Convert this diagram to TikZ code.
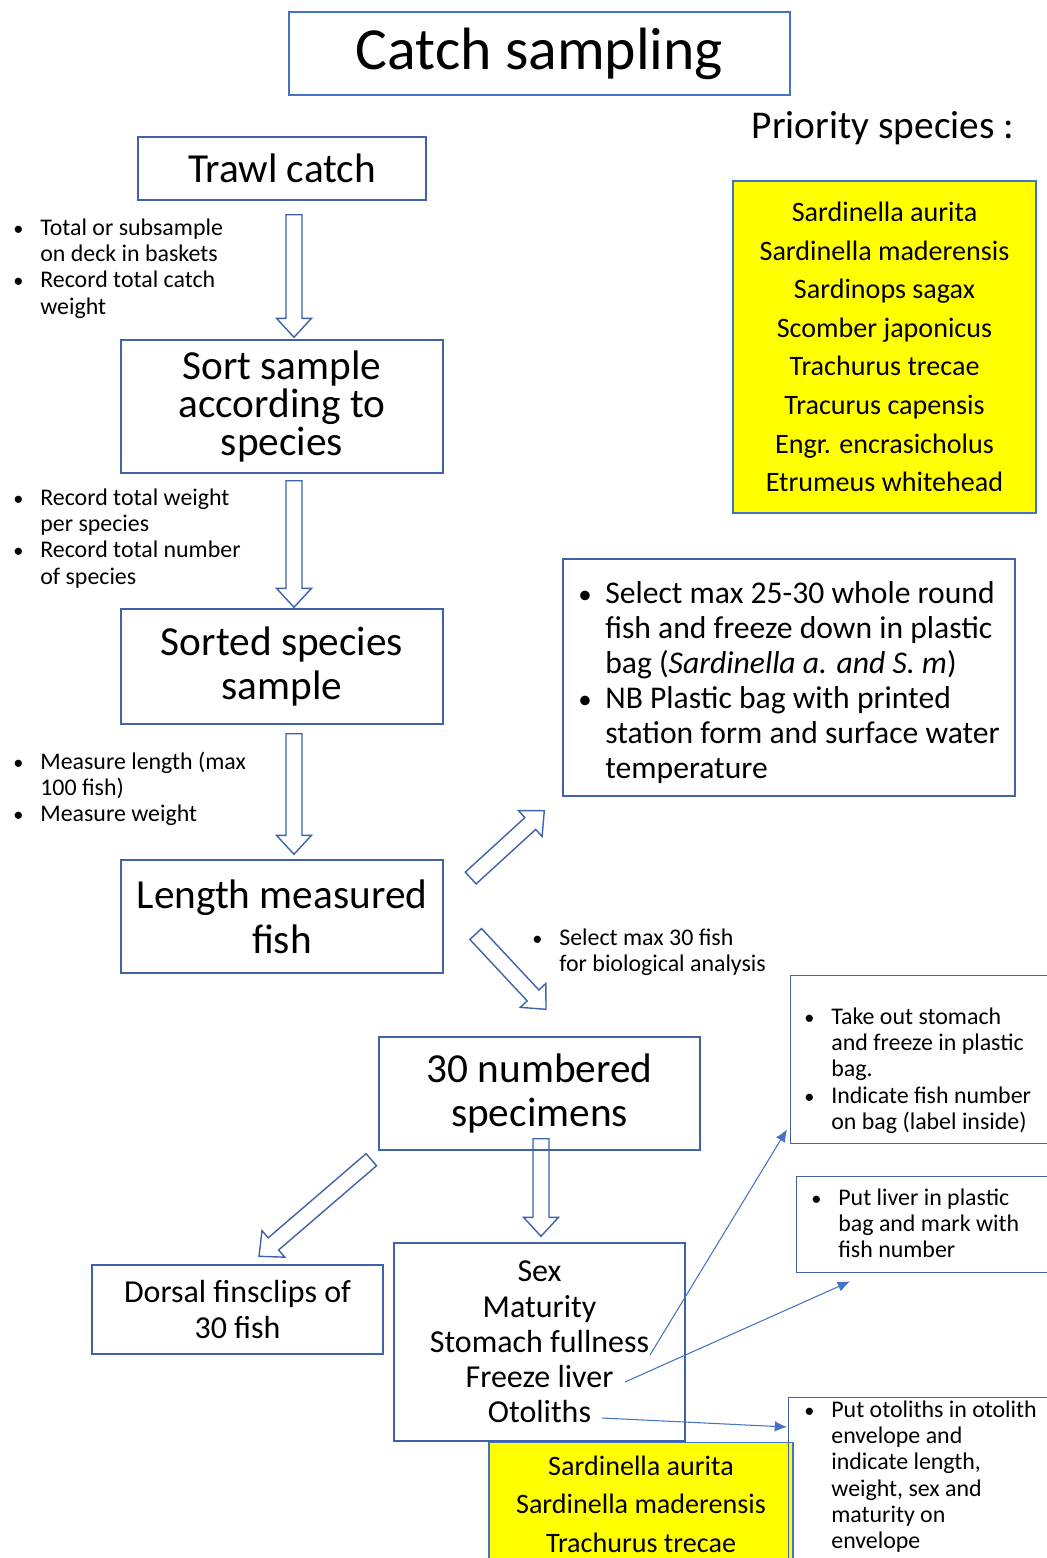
\documentclass[tikz,border=0pt]{standalone}
\usepackage{fontspec}
\setmainfont{Carlito}
\usetikzlibrary{calc,arrows.meta,positioning}

\definecolor{boxblue}{RGB}{63,98,168}
\definecolor{lineblue}{RGB}{68,114,196}
\definecolor{prioyellow}{RGB}{255,255,0}

\newcommand{\pxu}{0.02cm}
\newcommand{\bul}{\makebox[0.54cm][l]{\scalebox{0.85}{\textbullet}}}
% hollow block arrow from #1 to the tip #2
\newcommand{\hollowarrow}[2]{%
  \coordinate (ha-s) at (#1);
  \coordinate (ha-t) at (#2);
  \coordinate (ha-n) at ($(ha-t)!0.38cm!(ha-s)$);
  \draw[hollow] ($(ha-s)!0.16cm!90:(ha-t)$) -- ($(ha-n)!0.16cm!-90:(ha-s)$)
    -- ($(ha-n)!0.35cm!-90:(ha-s)$) -- (ha-t) -- ($(ha-n)!0.35cm!90:(ha-s)$)
    -- ($(ha-n)!0.16cm!90:(ha-s)$) -- ($(ha-s)!0.16cm!-90:(ha-t)$) -- cycle;}

\begin{document}
\begin{tikzpicture}[x=0.02cm, y=-0.02cm,
    box/.style = {draw=boxblue, line width=0.8pt, align=center, inner sep=0pt},
    ybox/.style = {draw=lineblue, line width=0.6pt, fill=prioyellow, align=center, inner sep=0pt},
    note/.style = {anchor=base west, inner sep=0pt, font=\fontsize{13.6}{15}\selectfont},
    hollow/.style = {draw=boxblue, line width=0.8pt, line join=miter},
    link/.style = {draw=lineblue, line width=0.6pt, -{Latex[length=7pt,width=6pt]}}]
    \useasboundingbox (0,0) rectangle (1047,1558);
    \clip (0,0) rectangle (1047,1558);
    %% NODES
    % Title
    \node[box, draw=lineblue, minimum width=501*\pxu, minimum height=83*\pxu,
      font=\fontsize{34}{40}\selectfont] (title) at (539.5,53.5) {Catch sampling};
    % Main chain
    \node[box, minimum width=288*\pxu, minimum height=63*\pxu,
      font=\fontsize{23.5}{25.5}\selectfont] (trawl) at (282,168.5) {Trawl catch};
    \node[box, minimum width=322*\pxu, minimum height=133*\pxu,
      font=\fontsize{23.5}{21.5}\selectfont] (sort) at (282,406.5) {Sort sample\\according to\\species};
    \node[box, minimum width=322*\pxu, minimum height=115*\pxu,
      font=\fontsize{23.5}{25.5}\selectfont] (sorted) at (282,666.5) {Sorted species\\sample};
    \node[box, minimum width=322*\pxu, minimum height=113*\pxu,
      font=\fontsize{23.5}{25.5}\selectfont] (length) at (282,916.5) {Length measured\\fish};
    \node[box, minimum width=321*\pxu, minimum height=113*\pxu,
      font=\fontsize{23.5}{25.5}\selectfont] (numbered) at (539.5,1093.5) {30 numbered\\specimens};
    \node[box, minimum width=291*\pxu, minimum height=89*\pxu,
      font=\fontsize{18.2}{20}\selectfont] (dorsal) at (237.5,1309.5) {Dorsal finsclips of\\30 fish};
    \node[box, minimum width=291*\pxu, minimum height=198*\pxu,
      font=\fontsize{18.2}{20}\selectfont] (sexbox) at (539.5,1342)
      {Sex\\Maturity\\Stomach fullness\\Freeze liver\\Otoliths};
    % Priority species
    \node[font=\fontsize{22.4}{26}\selectfont] (priolabel) at (883,128) {Priority species :};
    \node[ybox, minimum width=303*\pxu, minimum height=332*\pxu,
      font=\fontsize{16}{22}\selectfont] (priobox) at (884.5,347)
      {Sardinella aurita\\Sardinella maderensis\\Sardinops sagax\\Scomber japonicus\\
       Trachurus trecae\\Tracurus capensis\\Engr. encrasicholus\\Etrumeus whitehead};
    \node[ybox, anchor=north, minimum width=304*\pxu, minimum height=160*\pxu] (bottombox) at (641,1442) {};
    \node[align=center, font=\fontsize{16}{22}\selectfont] (bottomlist) at (641,1504)
      {Sardinella aurita\\Sardinella maderensis\\Trachurus trecae};
    % Boxes with notes
    \node[box, minimum width=452*\pxu, minimum height=237*\pxu] (selectbox) at (789,677.5) {};
    \node[box, anchor=north west, minimum width=270*\pxu, minimum height=168*\pxu] (stomachbox) at (790,975) {};
    \node[box, anchor=north west, minimum width=270*\pxu, minimum height=96*\pxu] (liverbox) at (796,1176) {};
    \node[box, anchor=north west, minimum width=270*\pxu, minimum height=200*\pxu] (otolithbox) at (788,1397) {};
    % Notes
    \node[note] (catchnote) at (13,235) {\begin{tabular}[t]{@{}l@{}l@{}}
      \bul & Total or subsample\\ & on deck in baskets\\
      \bul & Record total catch\\ & weight\end{tabular}};
    \node[note] (sortnote) at (13,505) {\begin{tabular}[t]{@{}l@{}l@{}}
      \bul & Record total weight\\ & per species\\
      \bul & Record total number\\ & of species\end{tabular}};
    \node[note] (measurenote) at (13,769) {\begin{tabular}[t]{@{}l@{}l@{}}
      \bul & Measure length (max\\ & 100 fish)\\
      \bul & Measure weight\end{tabular}};
    \node[note] (biolnote) at (532,945) {\begin{tabular}[t]{@{}l@{}l@{}}
      \bul & Select max 30 fish\\ & for biological analysis\end{tabular}};
    \node[note, font=\fontsize{18}{20}\selectfont] (select) at (578,603) {\begin{tabular}[t]{@{}l@{}l@{}}
      \bul & Select max 25-30 whole round\\
      & fish and freeze down in plastic\\
      & bag (\textit{Sardinella a. and S. m})\\
      \bul & NB Plastic bag with printed\\
      & station form and surface water\\
      & temperature\end{tabular}};
    \node[note] (stomach) at (804,1024) {\begin{tabular}[t]{@{}l@{}l@{}}
      \bul & Take out stomach\\ & and freeze in plastic\\ & bag.\\
      \bul & Indicate fish number\\ & on bag (label inside)\end{tabular}};
    \node[note] (liver) at (811,1205) {\begin{tabular}[t]{@{}l@{}l@{}}
      \bul & Put liver in plastic\\ & bag and mark with\\ & fish number\end{tabular}};
    \node[note] (otolith) at (804,1417) {\begin{tabular}[t]{@{}l@{}l@{}}
      \bul & Put otoliths in otolith\\ & envelope and\\ & indicate length,\\
      & weight, sex and\\ & maturity on\\ & envelope\end{tabular}};
    % Free ends in the list
    \coordinate (stomachend) at (650,1355);
    \coordinate (liverend) at (625,1382);
    \coordinate (otolithsend) at (602,1418);
    %% ARROWS
    % Main chain
    \hollowarrow{$(trawl.south)+(12,14)$}{$(sort.north)+(12,-2)$}
    \hollowarrow{$(sort.south)+(12,7)$}{$(sorted.north)+(12,-1)$}
    \hollowarrow{$(sorted.south)+(12,9)$}{$(length.north)+(12,-5)$}
    % Branches
    \hollowarrow{$(length.east)+(27,-38.5)$}{$(selectbox.south west)+(-18,14)$}
    \hollowarrow{$(length.east)+(32,17.5)$}{$(numbered.north)+(6.5,-27)$}
    \hollowarrow{$(numbered.south west)+(-7,9)$}{$(dorsal.north)+(21.5,-8)$}
    \hollowarrow{$(numbered.south)+(1.5,-12)$}{$(sexbox.north)+(1.5,-6)$}
    % Links to the notes
    \draw[link] (stomachend) -- ($(stomachbox.south west)+(-3,-15)$);
    \draw[link] (liverend) -- ($(liverbox.south west)+(54,8)$);
    \draw[link] (otolithsend) -- ($(otolithbox.north west)+(-1,30)$);
\end{tikzpicture}
\end{document}
